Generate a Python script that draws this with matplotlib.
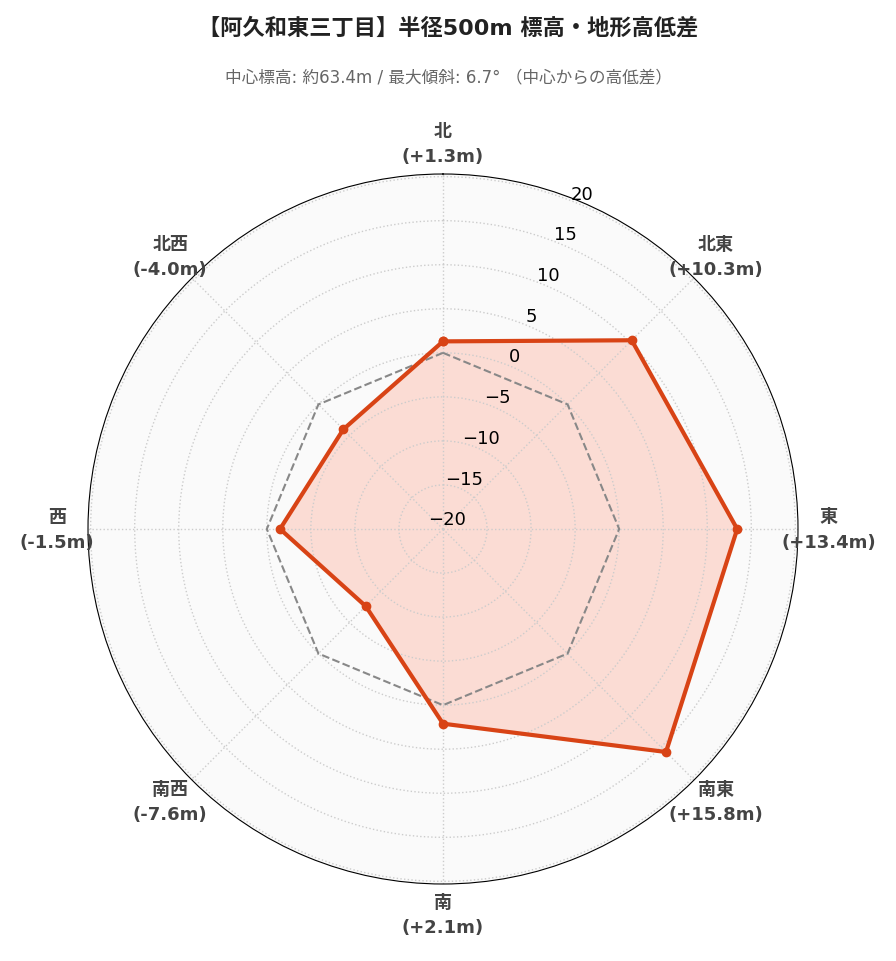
import numpy as np
import matplotlib.pyplot as plt

plt.rcParams['font.family'] = ['DejaVu Sans', 'Noto Sans CJK JP']

directions = ['北', '北東', '東', '南東', '南', '南西', '西', '北西']
diffs = [1.3, 10.3, 13.4, 15.8, 2.1, -7.6, -1.5, -4.0]
r_ticks = [-20, -15, -10, -5, 0, 5, 10, 15, 20]
r_min, r_max = -20, 20.3

theta = np.deg2rad(np.arange(0, 360, 45))
th_closed = np.append(theta, theta[0])
v_closed = np.append(diffs, diffs[0])

fig = plt.figure(figsize=(8.96, 9.62), dpi=100)
ax = fig.add_axes([88/896, 77/962, 710/896, 710/962], projection='polar')
ax.set_theta_zero_location('N')
ax.set_theta_direction(-1)
ax.set_facecolor('#fafafa')
ax.set_ylim(r_min, r_max)
ax.set_yticks(r_ticks)
ax.set_yticklabels([])
ax.set_xticks(theta)
ax.set_xticklabels([])
ax.grid(True, linestyle=':', color='#cccccc', linewidth=1)
ax.spines['polar'].set_color('black')

ax.fill(th_closed, v_closed, color='#fcd5cb', alpha=0.8, zorder=1)
# zero reference
ax.plot(th_closed, np.zeros(len(th_closed)), '--', color='#888888', lw=1.5, zorder=2)
ax.plot(th_closed, v_closed, '-o', color='#d84315', lw=3, ms=6, zorder=3)

# radial tick labels on top of the fill
for t in r_ticks:
    lab = '\u2212%d' % -t if t < 0 else str(t)
    ax.text(np.deg2rad(22.5), t + 1.2, lab, ha='center', va='center', fontsize=13,
            color='black', zorder=5)

for t, d, v in zip(theta, directions, diffs):
    ax.text(t, 23.8, '%s\n(%+.1fm)' % (d, v), ha='center', va='center',
            fontsize=13, fontweight='bold', color='#444444', linespacing=1.5,
            clip_on=False)

fig.text(0.5, 1 - 28/962, '【阿久和東三丁目】半径500m 標高・地形高低差', ha='center', va='center',
         fontsize=16, fontweight='bold', color='#222222')
fig.text(0.5, 1 - 77/962, '中心標高: 約63.4m / 最大傾斜: 6.7° （中心からの高低差）', ha='center', va='center',
         fontsize=12, color='#666666')

fig.savefig('out.png', dpi=100)
